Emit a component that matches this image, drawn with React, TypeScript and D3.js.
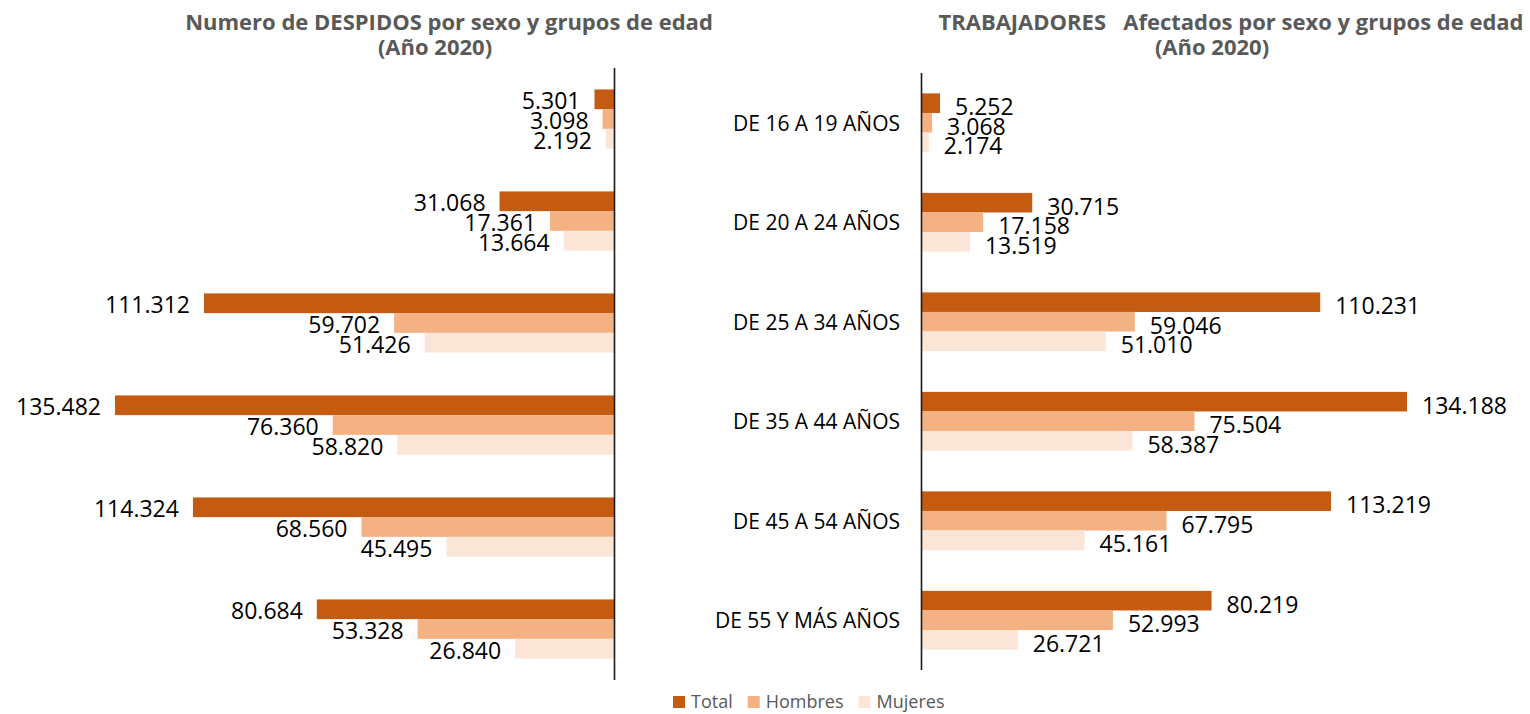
import { useRef, useEffect } from 'react';
import * as d3 from 'd3';

const categories = [
  'DE 16 A 19 AÑOS',
  'DE 20 A 24 AÑOS',
  'DE 25 A 34 AÑOS',
  'DE 35 A 44 AÑOS',
  'DE 45 A 54 AÑOS',
  'DE 55 Y MÁS AÑOS',
];
const seriesNames = ['Total', 'Hombres', 'Mujeres'];
const seriesColors = ['#C55A11', '#F4B183', '#FBE5D6'];

// Numero de despidos
const despidosTotal = [5301, 31068, 111312, 135482, 114324, 80684];
const despidosHombres = [3098, 17361, 59702, 76360, 68560, 53328];
const despidosMujeres = [2192, 13664, 51426, 58820, 45495, 26840];

// Trabajadores afectados
const trabTotal = [5252, 30715, 110231, 134188, 113219, 80219];
const trabHombres = [3068, 17158, 59046, 75504, 67795, 52993];
const trabMujeres = [2174, 13519, 51010, 58387, 45161, 26721];

const FONT = "'Open Sans', 'Noto Sans', sans-serif";
const TITLE_COLOR = '#595959';

const fmt = d3
  .formatLocale({ decimal: ',', thousands: '.', grouping: [3], currency: ['', ''] })
  .format(',d');

type Row = { cat: string; series: string; value: number };

function toRows(total: number[], hombres: number[], mujeres: number[]): Row[] {
  const cols = [total, hombres, mujeres];
  const rows: Row[] = [];
  categories.forEach((cat, i) => {
    seriesNames.forEach((s, j) => rows.push({ cat, series: s, value: cols[j]![i]! }));
  });
  return rows;
}

export default function App() {
  const svgRef = useRef<SVGSVGElement>(null);

  useEffect(() => {
    if (!svgRef.current) return;
    const svg = d3.select(svgRef.current);
    svg.selectAll('*').remove();

    const color = d3.scaleOrdinal<string, string>().domain(seriesNames).range(seriesColors);

    // ---------- Left chart: despidos (bars grow to the left) ----------
    const leftRows = toRows(despidosTotal, despidosHombres, despidosMujeres);
    const axisL = 614;
    const yL = d3.scaleBand().domain(categories).range([68, 680]).paddingInner(0.42).paddingOuter(0.21);
    const subL = d3.scaleBand().domain(seriesNames).range([0, yL.bandwidth()]);
    const xL = d3.scaleLinear().domain([0, d3.max(despidosTotal)!]).range([axisL, 115]);

    const gL = svg.append('g');
    gL.selectAll('rect')
      .data(leftRows)
      .join('rect')
      .attr('x', (d) => xL(d.value))
      .attr('y', (d) => yL(d.cat)! + subL(d.series)!)
      .attr('width', (d) => axisL - xL(d.value))
      .attr('height', subL.bandwidth())
      .attr('fill', (d) => color(d.series));

    gL.selectAll('text.value')
      .data(leftRows)
      .join('text')
      .attr('class', 'value')
      .attr('x', (d) => xL(d.value) - 14)
      .attr('y', (d) => yL(d.cat)! + subL(d.series)! + subL.bandwidth() / 2 + 1)
      .attr('text-anchor', 'end')
      .attr('dominant-baseline', 'central')
      .attr('font-family', FONT)
      .attr('font-size', 23)
      .attr('fill', '#000')
      .text((d) => fmt(d.value));

    gL.append('line')
      .attr('x1', axisL + 0.5)
      .attr('x2', axisL + 0.5)
      .attr('y1', 68)
      .attr('y2', 680)
      .attr('stroke', '#1a1a1a')
      .attr('stroke-width', 1.6);

    // ---------- Right chart: trabajadores (bars grow to the right) ----------
    const rightRows = toRows(trabTotal, trabHombres, trabMujeres);
    const axisR = 921;
    const yR = d3.scaleBand().domain(categories).range([73, 670]).paddingInner(0.41).paddingOuter(0.205);
    const subR = d3.scaleBand().domain(seriesNames).range([0, yR.bandwidth()]);
    const xR = d3.scaleLinear().domain([0, d3.max(trabTotal)!]).range([axisR, 1407]);

    const gR = svg.append('g');
    gR.selectAll('rect')
      .data(rightRows)
      .join('rect')
      .attr('x', axisR)
      .attr('y', (d) => yR(d.cat)! + subR(d.series)!)
      .attr('width', (d) => xR(d.value) - axisR)
      .attr('height', subR.bandwidth())
      .attr('fill', (d) => color(d.series));

    gR.selectAll('text.value')
      .data(rightRows)
      .join('text')
      .attr('class', 'value')
      .attr('x', (d) => xR(d.value) + 15)
      .attr('y', (d) => yR(d.cat)! + subR(d.series)! + subR.bandwidth() / 2 + 3)
      .attr('dominant-baseline', 'central')
      .attr('font-family', FONT)
      .attr('font-size', 23)
      .attr('fill', '#000')
      .text((d) => fmt(d.value));

    gR.selectAll('text.cat')
      .data(categories)
      .join('text')
      .attr('class', 'cat')
      .attr('x', 900)
      .attr('y', (d) => yR(d)! + yR.bandwidth() / 2)
      .attr('text-anchor', 'end')
      .attr('dominant-baseline', 'central')
      .attr('font-family', FONT)
      .attr('font-size', 21)
      .attr('fill', '#000')
      .text((d) => d);

    gR.append('line')
      .attr('x1', axisR + 0.5)
      .attr('x2', axisR + 0.5)
      .attr('y1', 73)
      .attr('y2', 670)
      .attr('stroke', '#1a1a1a')
      .attr('stroke-width', 1.6);

    // ---------- Titles ----------
    const titles = [
      { text: 'Numero de DESPIDOS por sexo y grupos de edad', x: 449, y: 30 },
      { text: '(Año 2020)', x: 435, y: 55 },
      { text: 'TRABAJADORES   Afectados por sexo y grupos de edad', x: 1231, y: 30 },
      { text: '(Año 2020)', x: 1212, y: 55 },
    ];
    svg.selectAll('text.title')
      .data(titles)
      .join('text')
      .attr('class', 'title')
      .attr('x', (d) => d.x)
      .attr('y', (d) => d.y)
      .attr('text-anchor', 'middle')
      .attr('font-family', FONT)
      .attr('font-weight', 700)
      .attr('font-size', 22)
      .attr('fill', TITLE_COLOR)
      .style('white-space', 'pre')
      .text((d) => d.text);

    // ---------- Legend ----------
    const legend = svg.append('g').attr('transform', 'translate(673,696)');
    let cx = 0;
    seriesNames.forEach((name) => {
      const item = legend.append('g').attr('transform', `translate(${cx},0)`);
      item.append('rect').attr('width', 12).attr('height', 12).attr('fill', color(name));
      const t = item
        .append('text')
        .attr('x', 18)
        .attr('y', 12)
        .attr('font-family', FONT)
        .attr('font-size', 18)
        .attr('fill', TITLE_COLOR)
        .text(name);
      cx += 18 + (t.node() as SVGTextElement).getComputedTextLength() + 15;
    });
  }, []);

  return (
    <svg
      ref={svgRef}
      width={1530}
      height={714}
      style={{ position: 'absolute', left: 0, top: 0, display: 'block', background: '#fff' }}
    />
  );
}
